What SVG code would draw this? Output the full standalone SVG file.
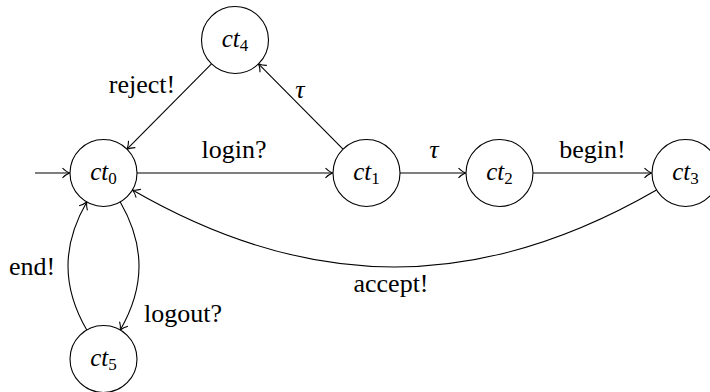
<svg xmlns="http://www.w3.org/2000/svg" width="710" height="392" viewBox="0 0 710 392">
<style>
.node circle{fill:#fff;stroke:#000;stroke-width:1.1}
.edge{fill:none;stroke:#000;stroke-width:1.1;marker-end:url(#arr)}
text{font-family:'Liberation Serif',serif;font-size:26px;fill:#000}
.nl{font-style:italic;text-anchor:middle;font-size:25px}
.sub{font-style:normal;font-size:17px}
.lbl{text-anchor:middle}
</style>
<defs>
<marker id="arr" markerUnits="userSpaceOnUse" markerWidth="12" markerHeight="12" viewBox="-9 -6 10 12" refX="0" refY="0" orient="auto" overflow="visible">
<path d="M-7,-4.8 C-4.5,-2.2 -1.5,-0.6 0,0 C-1.5,0.6 -4.5,2.2 -7,4.8" fill="none" stroke="#000" stroke-width="1.1"/>
</marker>
</defs>
<g id="connectors">
<path class="edge" d="M35,173 L69.5,173"/>
<path class="edge" d="M137,173 L332.5,173"/>
<path class="edge" d="M400,173 L465.5,173"/>
<path class="edge" d="M533,173 L651.5,173"/>
<path class="edge" d="M343,149.2 L258.5,63.8"/>
<path class="edge" d="M211.5,63.8 L127,149.2"/>
<path class="edge" d="M656.5,190 C478.9,292.6 310.1,292.6 132.5,190"/>
<path class="edge" d="M86.75,330 C61.75,286.7 61.75,245.3 86.75,202"/>
<path class="edge" d="M120.25,202 C145.25,245.3 145.25,286.7 120.25,330"/>
</g>
<g id="edge-labels">
<text class="lbl" x="234" y="158">login?</text>
<text class="lbl" x="434" y="158" font-style="italic">τ</text>
<text class="lbl" x="592.5" y="158">begin!</text>
<text class="lbl" x="300" y="98" font-style="italic">τ</text>
<text class="lbl" x="142" y="93">reject!</text>
<text class="lbl" x="391" y="292">accept!</text>
<text x="9" y="275">end!</text>
<text x="144" y="322">logout?</text>
</g>
<g id="ct0" class="node"><circle cx="103.5" cy="173" r="33.5"/><text class="nl" x="103.5" y="180">ct<tspan class="sub" dy="4">0</tspan></text></g>
<g id="ct1" class="node"><circle cx="366.5" cy="173" r="33.5"/><text class="nl" x="366.5" y="180">ct<tspan class="sub" dy="4">1</tspan></text></g>
<g id="ct2" class="node"><circle cx="499.5" cy="173" r="33.5"/><text class="nl" x="499.5" y="180">ct<tspan class="sub" dy="4">2</tspan></text></g>
<g id="ct3" class="node"><circle cx="685.5" cy="173" r="33.5"/><text class="nl" x="685.5" y="180">ct<tspan class="sub" dy="4">3</tspan></text></g>
<g id="ct4" class="node"><circle cx="235" cy="40" r="33.5"/><text class="nl" x="235" y="47">ct<tspan class="sub" dy="4">4</tspan></text></g>
<g id="ct5" class="node"><circle cx="103.5" cy="359" r="33.5"/><text class="nl" x="103.5" y="366">ct<tspan class="sub" dy="4">5</tspan></text></g>
</svg>
